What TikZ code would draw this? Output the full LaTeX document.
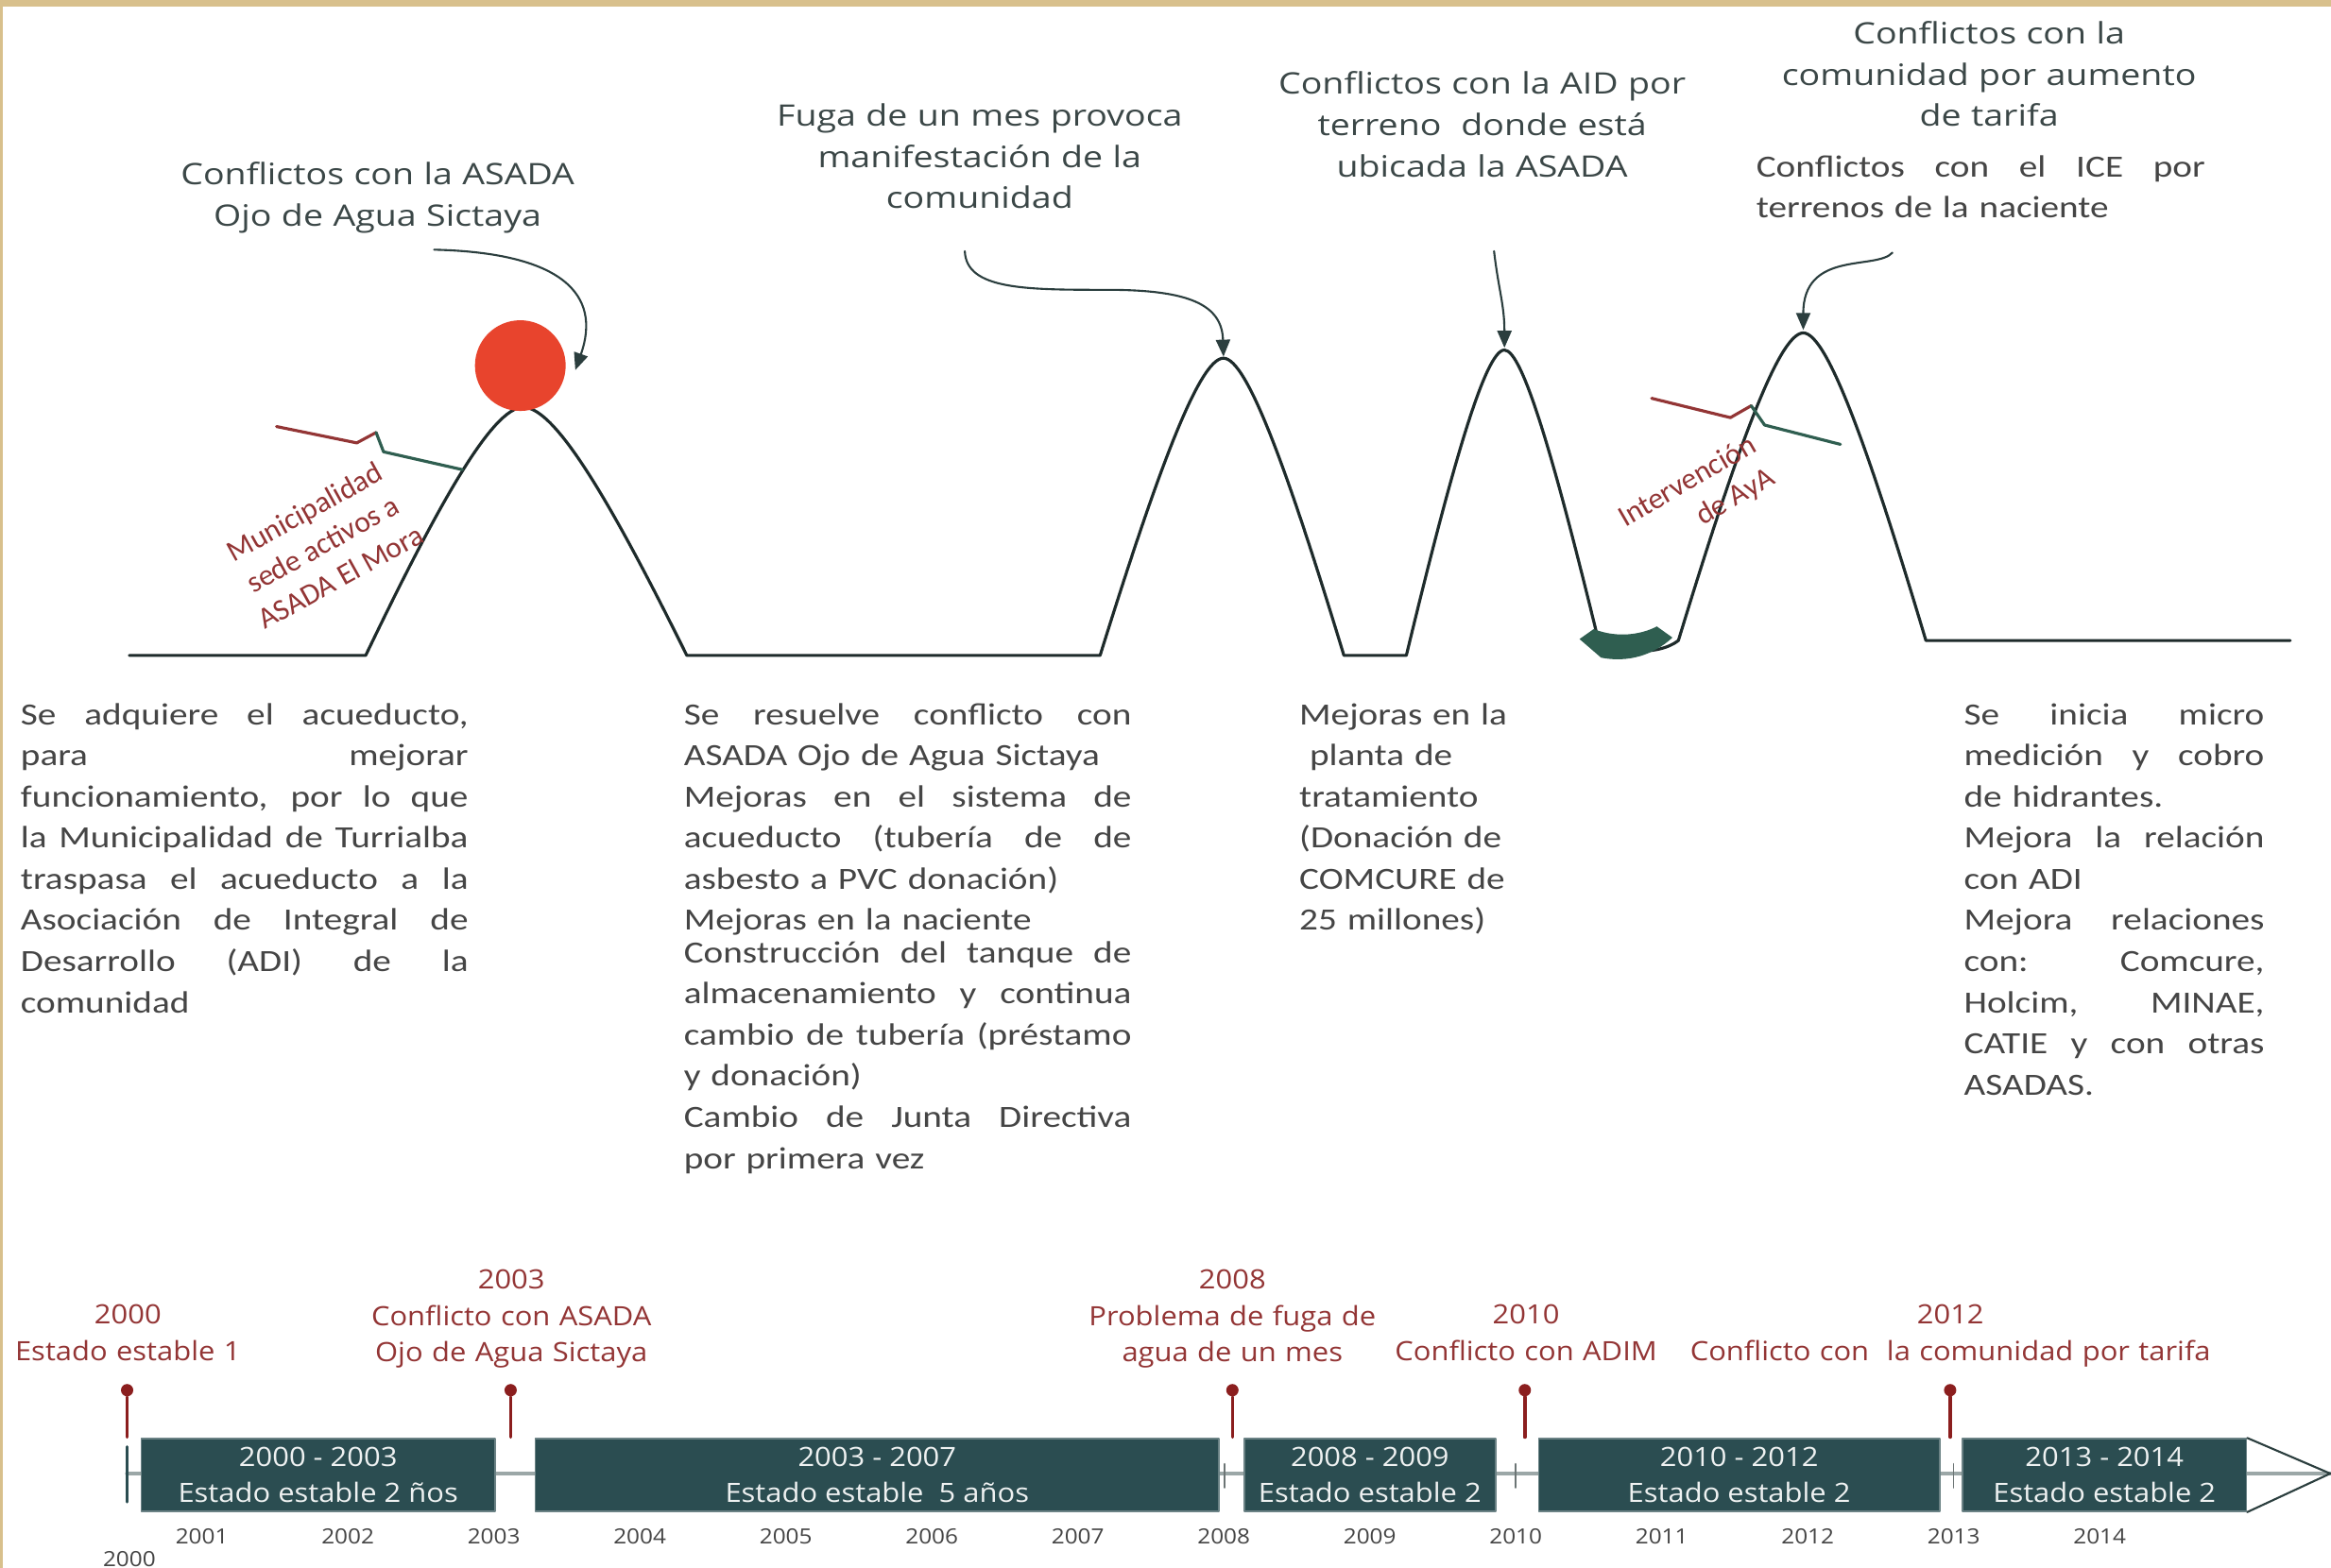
\documentclass[tikz,border=0pt]{standalone}
\usepackage{fontspec}
\setmainfont{Carlito}
\newfontfamily\cuerpofont[FakeStretch=1.2]{Carlito}
\newfontfamily\notafont[FakeStretch=1.2]{Open Sans}
\newfontfamily\lineafont[FakeStretch=1.1]{Open Sans}
\usetikzlibrary{arrows.meta,calc}

\definecolor{fondo}{HTML}{D8C08C}
\definecolor{montana}{HTML}{1E2B2B}
\definecolor{flechagris}{HTML}{2B3E3E}
\definecolor{notagris}{HTML}{3B4747}
\definecolor{cuerpogris}{HTML}{454545}
\definecolor{solrojo}{HTML}{E8442D}
\definecolor{vino}{HTML}{933535}
\definecolor{pinrojo}{HTML}{8B1E1E}
\definecolor{verdeoscuro}{HTML}{2F5E50}
\definecolor{cajaverde}{HTML}{2B4D51}
\definecolor{ejegris}{HTML}{9BA7A7}

% linea justificada
\newcommand{\jl}[1]{\makebox[\linewidth][s]{\spaceskip=0pt\xspaceskip=0pt #1}}

\tikzset{
  nota/.style={font=\notafont\fontsize{8.9}{12.4}\selectfont, text=notagris, text width=6cm, align=center, inner sep=0pt, anchor=base},
  bloque/.style={font=\cuerpofont\fontsize{9.3}{12.4}\selectfont, text=cuerpogris, align=left, inner sep=0pt, anchor=base west},
  rotulo/.style={font=\fontsize{9}{11.2}\selectfont, text=vino, inner sep=0pt, anchor=center},
  flecha/.style={->, draw=flechagris, line width=0.6pt},
  caja/.style={fill=cajaverde, draw=cajaverde!70!white, line width=0.4pt, minimum height=0.771cm, inner sep=0pt, text=white!92!cajaverde, font=\lineafont\fontsize{8}{10.9}\selectfont, align=center},
  etiqueta/.style={font=\lineafont\fontsize{8}{10.9}\selectfont, text=vino, text width=6cm, align=center, inner sep=0pt, anchor=base},
  anio/.style={font=\lineafont\fontsize{6.3}{7}\selectfont, text=cuerpogris, inner sep=0pt, anchor=base},
  pin/.style={circle, fill=pinrojo, minimum size=0.13cm, inner sep=0pt},
  pinlinea/.style={draw=pinrojo, line width=1pt}
}

\begin{document}
\begin{tikzpicture}[line cap=round,line join=round,>={Triangle[length=1.8mm,width=1.5mm]},x=0.015733cm,y=-0.015733cm]
  \useasboundingbox (0,0) rectangle (1568,1055);
  \fill[fondo] (0,0) rectangle (1568,1055);
  \fill[white] (2,4.7) rectangle (1568,1055);

  % curva de estados
  \coordinate (cima1) at (352,274);
  \coordinate (cima2) at (823,240);
  \coordinate (cima3) at (1012,234);
  \coordinate (cima4) at (1213,222);
  \draw[montana, line width=0.9pt] (87,441) -- (246,441)
    .. controls (294,341) and (331,274) .. (352,274)
    .. controls (374,274) and (412.5,341) .. (462,441) -- (740,441)
    .. controls (777.4,321) and (806.4,241) .. (823,241)
    .. controls (839.2,241) and (867.5,321) .. (904,441) -- (946,441)
    .. controls (975.7,318) and (998.8,235.5) .. (1012,235.5)
    .. controls (1024.4,235.5) and (1046.1,312) .. (1074,426)
    .. controls (1082,440) and (1115,442) .. (1129,431)
    .. controls (1166.8,307) and (1196.2,224) .. (1213,224)
    .. controls (1229.5,224) and (1258.4,307) .. (1295.5,431) -- (1540.6,431);
  \fill[verdeoscuro] (1062.5,430) -- (1077,442.5) .. controls (1095,446) and (1112,441) .. (1125,429) -- (1114.5,421.5) .. controls (1104,427) and (1088,429.5) .. (1072,423.3) -- cycle;

  % senales
  \draw[vino, line width=0.9pt] (186,287) -- (240,298) -- (253,291);
  \draw[verdeoscuro, line width=0.9pt] (253,291) -- (258,304) -- (311,316);
  \draw[vino, line width=0.9pt] (1111,268) -- (1164,281) -- (1178,273);
  \draw[verdeoscuro, line width=0.9pt] (1178,273) -- (1187,286) -- (1238,299);

  \node[circle, fill=solrojo, minimum size=0.96cm, inner sep=0pt] (sol) at (350,246) {};

  \node[rotulo, align=center, rotate=29] (municipalidad) at (217,366) {Municipalidad\\sede activos a\\ASADA El Mora};
  \node[rotulo, align=right, rotate=30] (intervencion) at (1141.6,335.5) {Intervención\\de AyA};

  % notas de arriba
  \node[nota] (nota2003) at (254,124.5) {Conflictos con la ASADA\\Ojo de Agua Sictaya};
  \node[nota] (nota2008) at (659,85) {Fuga de un mes provoca\\manifestación de la\\comunidad};
  \node[nota] (nota2010) at (997,63.5) {Conflictos con la AID por\\terreno\ \ donde está\\ubicada la ASADA};
  \node[nota] (nota2012) at (1338,29.5) {Conflictos con la\\comunidad por aumento\\de tarifa};
  \node[bloque, text width=4.751cm] (notaice) at (1181,119) {\jl{Conflictos con el ICE por}\\terrenos de la naciente};

  \coordinate (f1) at (292,168);
  \coordinate (p1) at (387,249);
  \coordinate (f2) at (649,169);
  \coordinate (f3) at (1005,169);
  \coordinate (f4) at (1273,170);
  \draw[flecha] (f1) .. controls (378,170) and (405,198) .. (p1);
  \draw[flecha] (f2) .. controls (650,195) and (690,195) .. (745,195) .. controls (800,195) and (822,205) .. (cima2);
  \draw[flecha] (f3) .. controls (1008,195) and (1012,205) .. (cima3);
  \draw[flecha] (f4) .. controls (1262,182) and (1213,168) .. (cima4);

  % textos de cada etapa
  \node[bloque, text width=4.736cm] (texto2000) at (13.5,487.5) {\jl{Se adquiere el acueducto,}\\
    \jl{para mejorar}\\
    \jl{funcionamiento, por lo que}\\
    \jl{la Municipalidad de Turrialba}\\
    \jl{traspasa el acueducto a la}\\
    \jl{Asociación de Integral de}\\
    \jl{Desarrollo (ADI) de la}\\
    comunidad};
  \node[bloque, text width=4.736cm] (texto2003) at (459.6,487.5) {\jl{Se resuelve conflicto con}\\
    ASADA Ojo de Agua Sictaya\\
    \jl{Mejoras en el sistema de}\\
    \jl{acueducto (tubería de de}\\
    asbesto a PVC donación)\\
    Mejoras en la naciente\\[-0.094cm]
    \jl{Construcción del tanque de}\\
    \jl{almacenamiento y continua}\\
    \jl{cambio de tubería (préstamo}\\
    y donación)\\
    \jl{Cambio de Junta Directiva}\\
    por primera vez};
  \node[bloque, text width=3cm] (texto2008) at (873.6,487.5) {Mejoras en la\\
    \ planta de\\
    tratamiento\\
    (Donación de\\
    COMCURE de\\
    25 millones)};
  \node[bloque, text width=3.178cm] (texto2013) at (1320.7,487.5) {\jl{Se inicia micro}\\
    \jl{medición y cobro}\\
    de hidrantes.\\
    \jl{Mejora la relación}\\
    con ADI\\
    \jl{Mejora relaciones}\\
    \jl{con: Comcure,}\\
    \jl{Holcim, MINAE,}\\
    \jl{CATIE y con otras}\\
    ASADAS.};

  % linea de tiempo
  \coordinate (inicio) at (85.5,991.5);
  \coordinate (punta) at (1567.5,991.5);
  \draw[ejegris, line width=1.2pt] (inicio) -- (punta);
  \draw[cajaverde, line width=0.9pt] (85.5,973.5) -- (85.5,1010.6);
  \foreach \x in {823.5,1019.5,1314}
    \draw[ejegris!70!black, line width=0.5pt] (\x,985) -- (\x,1001);

  \node[caja, minimum width=3.745cm] (caja1) at (214,992.5) {2000 - 2003\\Estado estable 2 ños};
  \node[caja, minimum width=7.237cm] (caja2) at (590,992.5) {2003 - 2007\\Estado estable\ \ 5 años};
  \node[caja, minimum width=2.659cm] (caja3) at (921.5,992.5) {2008 - 2009\\Estado estable 2};
  \node[caja, minimum width=4.243cm] (caja4) at (1169.9,992.5) {2010 - 2012\\Estado estable 2};
  \node[caja, minimum width=3.008cm] (caja5) at (1415.6,992.5) {2013 - 2014\\Estado estable 2};
  \draw[flechagris, line width=0.6pt] (caja5.north east) -- (punta) -- (caja5.south east);

  \foreach \x/\n in {85.5/2000, 343.5/2003, 829/2008, 1025.7/2010, 1311.8/2012} {
    \coordinate (pie\n) at (\x,967);
    \node[pin] (pin\n) at (\x,935.4) {};
    \draw[pinlinea] (pin\n) -- (pie\n);
  }

  \node[etiqueta] (evento2000) at (86,891) {2000\\Estado estable 1};
  \node[etiqueta] (evento2003) at (344,867.5) {2003\\Conflicto con ASADA\\Ojo de Agua Sictaya};
  \node[etiqueta] (evento2008) at (829,867.5) {2008\\Problema de fuga de\\agua de un mes};
  \node[etiqueta] (evento2010) at (1026.5,891) {2010\\Conflicto con ADIM};
  \node[etiqueta] (evento2012) at (1312,891) {2012\\Conflicto con\ \ la comunidad por tarifa};

  \foreach \a in {2001,...,2014}
    \node[anio] (anio\a) at ({135.8+98.2*(\a-2001)},1039) {\a};
  \node[anio] (anio2000) at (87,1054) {2000};
\end{tikzpicture}
\end{document}
